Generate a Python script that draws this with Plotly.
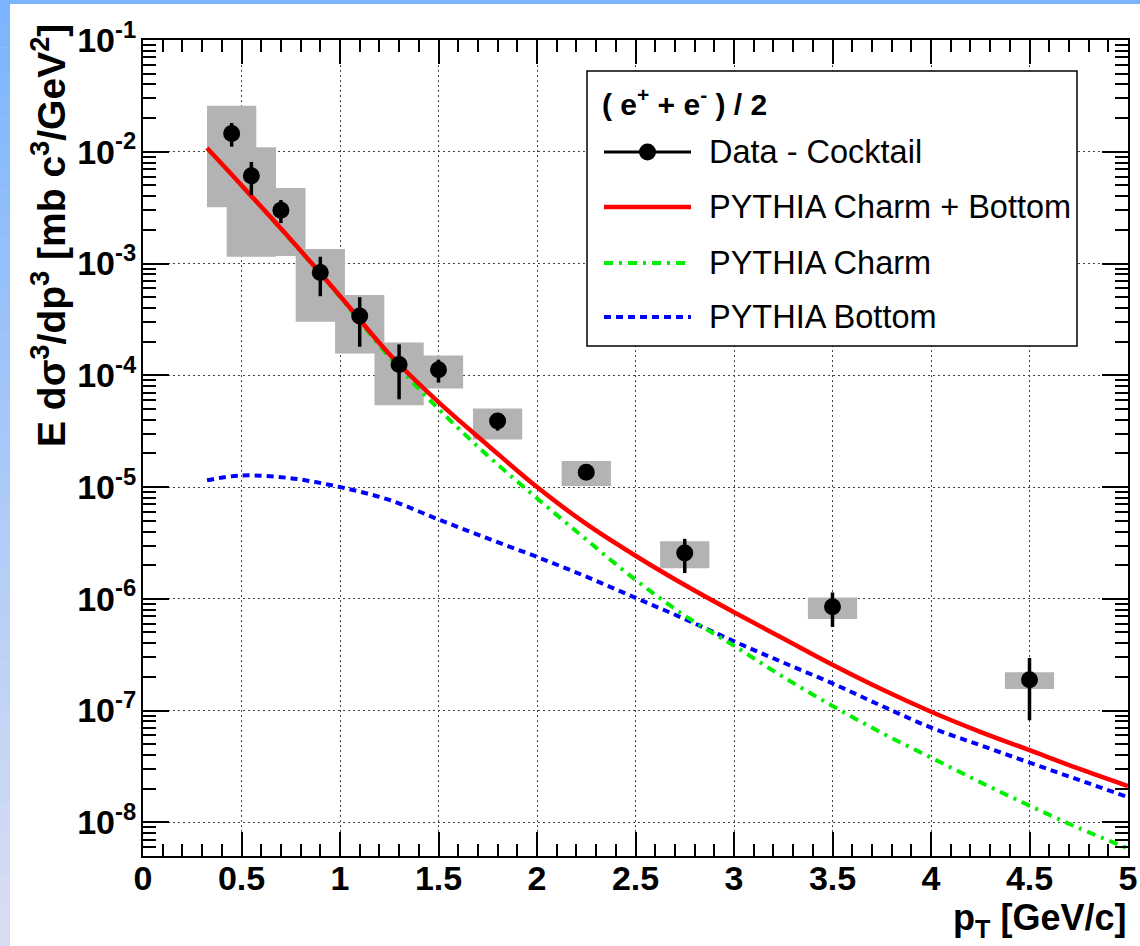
import plotly.graph_objects as go

# ---------------- data ----------------
pt = [0.45, 0.55, 0.70, 0.90, 1.10, 1.30, 1.50, 1.80, 2.25, 2.75, 3.50, 4.50]
yield_val = [1.46e-2, 6.1e-3, 3.0e-3, 8.3e-4, 3.4e-4, 1.25e-4, 1.12e-4, 3.9e-5, 1.36e-5, 2.57e-6, 8.5e-7, 1.89e-7]
stat_err = [3.5e-3, 2.0e-3, 7.0e-4, 3.2e-4, 1.6e-4, 6.4e-5, 2.6e-5, 7.0e-6, 1.5e-6, 8.7e-7, 2.9e-7, 1.07e-7]
sys_hi = [2.58e-2, 1.10e-2, 4.73e-3, 1.35e-3, 5.24e-4, 1.97e-4, 1.50e-4, 5.05e-5, 1.71e-5, 3.27e-6, 1.03e-6, 2.20e-7]
sys_lo = [3.19e-3, 1.15e-3, 1.17e-3, 3.02e-4, 1.57e-4, 5.4e-5, 7.6e-5, 2.67e-5, 1.02e-5, 1.88e-6, 6.6e-7, 1.56e-7]
sys_halfwidth = 0.125

curve_x = [0.325, 0.50, 0.75, 1.00, 1.25, 1.50, 1.75, 2.00, 2.25, 2.50, 2.75, 3.00, 3.25, 3.50, 3.75,
           4.00, 4.25, 4.50, 4.75, 5.00]
sum_y = [1.079e-2, 5.01e-3, 1.64e-3, 5.13e-4, 1.55e-4, 5.75e-5, 2.37e-5, 1.0e-5, 4.68e-6, 2.43e-6, 1.33e-6,
         7.59e-7, 4.42e-7, 2.57e-7, 1.55e-7, 9.77e-8, 6.46e-8, 4.42e-8, 3.02e-8, 2.11e-8]
charm_y = [1.078e-2, 5.0e-3, 1.62e-3, 5.01e-4, 1.46e-4, 5.01e-5, 1.91e-5, 7.94e-6, 3.39e-6, 1.48e-6, 7.08e-7,
           3.8e-7, 2.0e-7, 1.10e-7, 6.31e-8, 3.8e-8, 2.29e-8, 1.41e-8, 8.9e-9, 5.85e-9]
bottom_y = [1.15e-5, 1.27e-5, 1.2e-5, 1.0e-5, 7.67e-6, 5.13e-6, 3.47e-6, 2.37e-6, 1.58e-6, 1.02e-6, 6.6e-7,
            4.17e-7, 2.69e-7, 1.75e-7, 1.1e-7, 7.05e-8, 4.9e-8, 3.42e-8, 2.4e-8, 1.68e-8]

x_tickvals = [0, 0.5, 1, 1.5, 2, 2.5, 3, 3.5, 4, 4.5, 5]
x_ticktext = ["0", "0.5", "1", "1.5", "2", "2.5", "3", "3.5", "4", "4.5", "5"]
y_tickvals = [1e-8, 1e-7, 1e-6, 1e-5, 1e-4, 1e-3, 1e-2, 1e-1]
y_ticktext = ["10<sup>-8</sup>", "10<sup>-7</sup>", "10<sup>-6</sup>", "10<sup>-5</sup>",
              "10<sup>-4</sup>", "10<sup>-3</sup>", "10<sup>-2</sup>", "10<sup>-1</sup>"]

legend_header = "( e<sup>+</sup> + e<sup>-</sup> ) / 2"
legend_labels = ["Data - Cocktail", "PYTHIA Charm + Bottom", "PYTHIA Charm", "PYTHIA Bottom"]

# ---------------- layout geometry (pixels) ----------------
W, H = 1140, 946
L, R, T, B = 143, 12, 40, 90
PW, PH = W - L - R, H - T - B


def px2paper_x(px):
    return (px - L) / PW


def px2paper_y(py):
    return (H - B - py) / PH


FONT = "Liberation Sans, Arial, Helvetica, sans-serif"

fig = go.Figure()

# systematic boxes
bx, by = [], []
for x, lo, hi in zip(pt, sys_lo, sys_hi):
    bx += [x - sys_halfwidth, x + sys_halfwidth, x + sys_halfwidth, x - sys_halfwidth, x - sys_halfwidth, None]
    by += [lo, lo, hi, hi, lo, None]
fig.add_trace(go.Scatter(x=bx, y=by, mode="lines", fill="toself", fillcolor="#b3b3b3",
                         line=dict(width=0, color="#b3b3b3"), hoverinfo="skip", showlegend=False))

# curves
fig.add_trace(go.Scatter(x=curve_x, y=bottom_y, mode="lines",
                         line=dict(color="#0000ff", width=4, dash="7px,5px", shape="spline", smoothing=1.0),
                         showlegend=False))
fig.add_trace(go.Scatter(x=curve_x, y=charm_y, mode="lines",
                         line=dict(color="#00ee00", width=4, dash="9px,6px,3px,6px", shape="spline", smoothing=1.0),
                         showlegend=False))
fig.add_trace(go.Scatter(x=curve_x, y=sum_y, mode="lines",
                         line=dict(color="#ff0000", width=4.5, shape="spline", smoothing=1.0),
                         showlegend=False))

# data points
fig.add_trace(go.Scatter(x=pt, y=yield_val, mode="markers",
                         marker=dict(symbol="circle", size=17, color="black"),
                         error_y=dict(type="data", array=stat_err, color="black", thickness=3.5, width=0),
                         showlegend=False))

# ---------------- background decoration (slide border) ----------------
shapes = []
shapes.append(dict(type="rect", xref="paper", yref="paper", x0=px2paper_x(0), x1=px2paper_x(W),
                   y0=px2paper_y(4), y1=px2paper_y(0), fillcolor="#7ab4fd", line=dict(width=0), layer="below"))
N = 40
c0 = (122, 180, 253)
c1 = (218, 222, 242)
for i in range(N):
    f = (i + 0.5) / N
    col = "rgb(%d,%d,%d)" % tuple(int(round(a + (b - a) * f)) for a, b in zip(c0, c1))
    shapes.append(dict(type="rect", xref="paper", yref="paper", x0=px2paper_x(0), x1=px2paper_x(10),
                       y0=px2paper_y(H * (i + 1) / N + 0.5), y1=px2paper_y(H * i / N),
                       fillcolor=col, line=dict(width=0), layer="below"))

# legend frame
lx0, lx1, ly0, ly1 = 587, 1077, 71, 346
shapes.append(dict(type="rect", xref="paper", yref="paper", x0=px2paper_x(lx0), x1=px2paper_x(lx1),
                   y0=px2paper_y(ly1), y1=px2paper_y(ly0), fillcolor="white", line=dict(color="black", width=1.5)))
entry_y = [152, 207, 263, 317]
sx0, sx1 = 604, 691
styles = [dict(color="black", width=3), dict(color="#ff0000", width=4.5),
          dict(color="#00ee00", width=4, dash="9px,6px,3px,6px"), dict(color="#0000ff", width=4, dash="7px,5px")]
for yy, st in zip(entry_y, styles):
    shapes.append(dict(type="line", xref="paper", yref="paper", x0=px2paper_x(sx0), x1=px2paper_x(sx1),
                       y0=px2paper_y(yy), y1=px2paper_y(yy), line=st))
shapes.append(dict(type="circle", xref="paper", yref="paper", xsizemode="pixel", ysizemode="pixel",
                   xanchor=px2paper_x((sx0 + sx1) / 2), yanchor=px2paper_y(entry_y[0]),
                   x0=-8.5, x1=8.5, y0=-8.5, y1=8.5, fillcolor="black", line=dict(color="black", width=0)))

annotations = []
annotations.append(dict(text=legend_header, xref="paper", yref="paper", x=px2paper_x(600), y=px2paper_y(102),
                        xanchor="left", yanchor="middle", showarrow=False,
                        font=dict(family=FONT, size=30, color="black", weight="bold")))
for yy, lab in zip(entry_y, legend_labels):
    annotations.append(dict(text=lab, xref="paper", yref="paper", x=px2paper_x(707), y=px2paper_y(yy),
                            xanchor="left", yanchor="middle", showarrow=False,
                            font=dict(family=FONT, size=32.5, color="black")))

# axis titles
annotations.append(dict(text="E d\u03c3<sup>3</sup>/dp<sup>3</sup> [mb c<sup>3</sup>/GeV<sup>2</sup>]",
                        xref="paper", yref="paper", x=px2paper_x(48), y=px2paper_y(236),
                        xanchor="center", yanchor="middle", textangle=-90, showarrow=False,
                        font=dict(family=FONT, size=39, color="black", weight="bold")))
annotations.append(dict(text="p<sub>T</sub> [GeV/c]", xref="paper", yref="paper",
                        x=1.0, y=px2paper_y(920), xanchor="right", yanchor="middle", showarrow=False,
                        font=dict(family=FONT, size=36, color="black", weight="bold")))

fig.update_layout(
    width=W, height=H,
    margin=dict(l=L, r=R, t=T, b=B, autoexpand=False),
    paper_bgcolor="white", plot_bgcolor="white",
    shapes=shapes, annotations=annotations,
    showlegend=False,
)

fig.update_xaxes(
    range=[0, 5], tickmode="array", tickvals=x_tickvals, ticktext=x_ticktext,
    ticks="inside", ticklen=24, tickwidth=1.5, tickcolor="black",
    minor=dict(ticks="inside", ticklen=12, tickwidth=1.5, tickcolor="black", dtick=0.1, tick0=0, showgrid=False),
    showline=True, linewidth=2, linecolor="black", mirror="allticks",
    showgrid=True, gridcolor="#444444", gridwidth=1.3, griddash="2px,3px",
    zeroline=False, ticklabelstandoff=-9, automargin=False,
    tickfont=dict(family=FONT, size=34, color="black", weight="bold"),
)
fig.update_yaxes(
    type="log", range=[-8.30103, -1], tickmode="array", tickvals=y_tickvals, ticktext=y_ticktext,
    ticks="inside", ticklen=26, tickwidth=1.5, tickcolor="black",
    minor=dict(ticks="inside", ticklen=13, tickwidth=1.5, tickcolor="black", dtick="D1", showgrid=False),
    showline=True, linewidth=2, linecolor="black", mirror="allticks",
    showgrid=True, gridcolor="#444444", gridwidth=1.3, griddash="2px,3px",
    zeroline=False, ticklabelstandoff=-2, automargin=False,
    tickfont=dict(family=FONT, size=34, color="black", weight="bold"),
)

fig.write_html(
    "out.html",
    config={"displayModeBar": False},
    post_script=("document.documentElement.style.overflow='hidden';"
                 "document.body.style.overflow='hidden';"
                 "document.body.style.margin='0px';document.body.style.padding='0px';"),
)
